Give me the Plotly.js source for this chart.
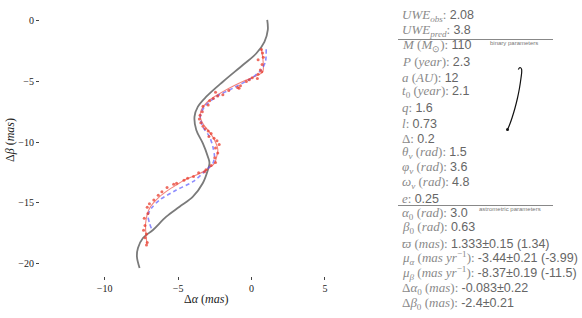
<!DOCTYPE html>
<html>
<head>
<meta charset="utf-8">
<script src="https://cdn.plot.ly/plotly-3.0.1.min.js"></script>
<style>
  body { margin: 0; padding: 0; background: #fff; }
  #plot { width: 582px; height: 318px; }
</style>
</head>
<body>
<div id="plot"></div>
<script>
// page size, used to turn pixel spots into paper fractions
const W = 582, H = 318;

// gray track: single star path (no binary)
const trackX = [1.07, 1.11, 0.88, 0.32, -0.59, -1.95, -3.08, -3.65, -3.88, -3.76, -3.31, -2.97, -2.86, -2.97, -3.31, -3.99, -4.90, -5.80, -6.71, -7.39, -7.73, -7.80, -7.62];
const trackY = [0.08, -0.74, -1.72, -2.69, -3.64, -5.02, -6.26, -7.08, -7.91, -9.01, -10.11, -11.21, -11.74, -12.31, -13.39, -14.52, -15.35, -16.17, -17.27, -17.93, -18.76, -19.48, -20.41];

// blue dashed: model track with the binary
const modelX = [1.0, 0.95, 0.66, -0.02, -1.27, -2.40, -3.20, -3.49, -3.31, -2.86, -2.63, -2.52, -2.63, -3.08, -3.99, -5.12, -6.26, -6.82, -7.05, -6.94, -6.82];
const modelY = [-2.34, -3.36, -4.05, -4.74, -5.56, -6.26, -7.08, -7.91, -8.74, -9.56, -10.39, -11.21, -11.76, -12.31, -13.28, -13.97, -14.79, -15.48, -16.03, -16.72, -17.13];

// red line: fitted track
const fitX = [0.66, 0.78, 0.77, 0.30, -0.36, -1.20, -1.95, -2.86, -3.42, -3.49, -3.30, -2.97, -2.52, -2.29, -2.40, -2.52, -3.08, -3.76, -4.50, -5.12, -5.70, -6.26, -6.94, -7.21, -7.17, -7.12];
const fitY = [-2.26, -3.20, -4.19, -4.55, -4.88, -5.35, -5.84, -6.53, -7.36, -7.91, -8.50, -9.01, -9.83, -10.66, -11.35, -11.76, -12.31, -12.73, -13.10, -13.55, -14.00, -14.52, -15.48, -16.72, -17.83, -18.37];

// red dots: observations
const obsX = [0.68, 0.75, 0.80, 0.45, 0.72, 0.60, 0.70, 0.45, 0.40, 0.05, -0.15, -0.35, -0.75, -0.85, -0.95, -1.55, -2.45, -1.95, -2.30, -2.60, -2.85, -2.95, -3.30, -3.35, -3.50, -3.55, -3.45, -3.30, -3.15, -2.95, -2.75, -2.90, -2.55, -2.35, -2.20, -2.45, -2.30, -2.50, -2.45, -2.75, -3.10, -3.20, -3.60, -3.95, -4.35, -4.60, -5.10, -5.30, -5.75, -6.10, -6.35, -6.65, -6.95, -7.10, -7.05, -7.30, -7.25, -7.35, -7.15, -7.25, -7.10, -7.15];
const obsY = [-2.35, -2.65, -3.00, -3.20, -3.60, -4.05, -4.20, -4.40, -4.75, -4.70, -4.85, -5.00, -5.35, -5.55, -5.50, -5.75, -5.90, -6.10, -6.20, -6.40, -6.60, -6.95, -7.05, -7.50, -7.80, -8.10, -8.40, -8.70, -8.90, -9.10, -9.30, -9.55, -9.70, -9.90, -10.20, -10.50, -10.90, -11.30, -11.70, -11.95, -12.30, -12.45, -12.55, -12.85, -13.00, -13.15, -13.40, -13.50, -13.75, -14.10, -14.40, -14.80, -15.10, -15.40, -15.90, -16.30, -16.90, -17.30, -17.60, -17.90, -18.30, -18.50];

// small orbit sketch in the corner (arbitrary units)
const orbitX = [18.3, 20.0, 21.5, 21.7, 21.0, 19.5, 17.5, 15.0, 12.0, 9.5, 7.5];
const orbitY = [48.5, 50.5, 49.0, 46.0, 40.0, 30.0, 20.0, 10.0, 0.0, -7.0, -11.5];

const xTicks = [-10, -5, 0, 5];
const yTicks = [0, -5, -10, -15, -20];

// text panel: [label, value]
const params = [
  ["<i>UWE</i><sub><i>obs</i></sub>", "2.08"],
  ["<i>UWE</i><sub><i>pred</i></sub>", "3.8"],
  ["<i>M</i> (<i>M</i><sub>⊙</sub>)", "110"],
  ["<i>P</i> (<i>year</i>)", "2.3"],
  ["<i>a</i> (<i>AU</i>)", "12"],
  ["<i>t</i><sub>0</sub> (<i>year</i>)", "2.1"],
  ["<i>q</i>", "1.6"],
  ["<i>l</i>", "0.73"],
  ["Δ", "0.2"],
  ["<i>θ</i><sub><i>v</i></sub> (<i>rad</i>)", "1.5"],
  ["<i>φ</i><sub><i>v</i></sub> (<i>rad</i>)", "3.6"],
  ["<i>ω</i><sub><i>v</i></sub> (<i>rad</i>)", "4.8"],
  ["<i>e</i>", "0.25"],
  ["<i>α</i><sub>0</sub> (<i>rad</i>)", "3.0"],
  ["<i>β</i><sub>0</sub> (<i>rad</i>)", "0.63"],
  ["<i>ϖ</i> (<i>mas</i>)", "1.333±0.15 (1.34)"],
  ["<i>μ</i><sub><i>α</i></sub> (<i>mas yr</i><sup>−1</sup>)", "-3.44±0.21 (-3.99)"],
  ["<i>μ</i><sub><i>β</i></sub> (<i>mas yr</i><sup>−1</sup>)", "-8.37±0.19 (-11.5)"],
  ["Δ<i>α</i><sub>0</sub> (<i>mas</i>)", "-0.083±0.22"],
  ["Δ<i>β</i><sub>0</sub> (<i>mas</i>)", "-2.4±0.21"]
];
const paramRows = [16, 31, 46, 62, 77, 91, 108, 123, 138, 152, 167, 182, 198, 213, 228, 243, 258, 273, 288, 303];

let data = [
  {
    x: trackX, y: trackY, type: "scatter", mode: "lines",
    line: {color: "#7a7a7a", width: 1.8, shape: "spline", smoothing: 1},
    hoverinfo: "skip"
  },
  {
    x: fitX, y: fitY, type: "scatter", mode: "lines",
    line: {color: "rgba(240,80,70,0.7)", width: 1.1, shape: "spline", smoothing: 0.8},
    hoverinfo: "skip"
  },
  {
    x: modelX, y: modelY, type: "scatter", mode: "lines",
    line: {color: "rgba(80,80,255,0.65)", width: 1.6, dash: "4px,3px", shape: "spline", smoothing: 0.8},
    hoverinfo: "skip"
  },
  {
    x: obsX, y: obsY, type: "scatter", mode: "markers",
    marker: {color: "rgba(232,60,45,0.75)", size: 3},
    hoverinfo: "skip"
  },
  {
    x: orbitX, y: orbitY, type: "scatter", mode: "lines",
    xaxis: "x2", yaxis: "y2",
    line: {color: "#111", width: 1.2, shape: "spline"},
    hoverinfo: "skip"
  },
  {
    x: [orbitX[orbitX.length - 1]], y: [orbitY[orbitY.length - 1]], type: "scatter", mode: "markers",
    xaxis: "x2", yaxis: "y2",
    marker: {color: "#111", size: 3},
    hoverinfo: "skip"
  }
];

let annotations = [];
for (let i = 0; i < params.length; i++) {
  annotations.push({
    xref: "paper", yref: "paper",
    x: 400 / W, y: 1 - paramRows[i] / H,
    xanchor: "left", yanchor: "middle",
    showarrow: false,
    font: {family: "Liberation Serif", size: 13, color: "#8a8a8a"},
    text: params[i][0] + ": <span style=\"font-family:'Liberation Sans';font-size:12.5px;color:#666\">" + params[i][1] + "</span>"
  });
}
annotations.push({
  xref: "paper", yref: "paper", x: 488 / W, y: 1 - 43 / H,
  xanchor: "left", yanchor: "middle", showarrow: false,
  font: {family: "Liberation Sans", size: 6, color: "#777"},
  text: "binary parameters"
});
annotations.push({
  xref: "paper", yref: "paper", x: 477 / W, y: 1 - 209 / H,
  xanchor: "left", yanchor: "middle", showarrow: false,
  font: {family: "Liberation Sans", size: 6, color: "#777"},
  text: "astrometric parameters"
});
// axis titles
annotations.push({
  xref: "paper", yref: "paper", x: 206 / W, y: 1 - 299 / H,
  xanchor: "center", yanchor: "middle", showarrow: false,
  font: {family: "Liberation Serif", size: 12, color: "#222"},
  text: "Δ<i>α</i> (<i>mas</i>)"
});
annotations.push({
  xref: "paper", yref: "paper", x: 10 / W, y: 1 - 140 / H,
  xanchor: "center", yanchor: "middle", showarrow: false, textangle: -90,
  font: {family: "Liberation Serif", size: 12, color: "#222"},
  text: "Δ<i>β</i> (<i>mas</i>)"
});

let layout = {
  width: W, height: H,
  margin: {l: 0, r: 0, t: 0, b: 0},
  paper_bgcolor: "#fff",
  plot_bgcolor: "#fff",
  showlegend: false,
  xaxis: {
    domain: [40 / W, 369 / W],
    range: [-14.4, 8.0],
    tickvals: xTicks,
    showgrid: false, zeroline: false, showline: false,
    ticks: "outside", ticklen: 3, tickcolor: "#444", tickwidth: 1,
    tickfont: {family: "Liberation Serif", size: 10, color: "#222"}
  },
  yaxis: {
    domain: [(H - 276) / H, (H - 8) / H],
    range: [-21.07, 1.07],
    tickvals: yTicks,
    showgrid: false, zeroline: false, showline: false,
    ticks: "outside", ticklen: 3, tickcolor: "#444", tickwidth: 1,
    tickfont: {family: "Liberation Serif", size: 10, color: "#222"}
  },
  xaxis2: {
    domain: [500 / W, 530 / W], range: [0, 30], anchor: "y2",
    visible: false
  },
  yaxis2: {
    domain: [(H - 135) / H, (H - 62) / H], range: [-17, 56], anchor: "x2",
    visible: false
  },
  shapes: [
    {type: "line", xref: "paper", yref: "paper", x0: 398 / W, x1: 553 / W, y0: 1 - 39.5 / H, y1: 1 - 39.5 / H, line: {color: "#888", width: 1}},
    {type: "line", xref: "paper", yref: "paper", x0: 398 / W, x1: 553 / W, y0: 1 - 205.5 / H, y1: 1 - 205.5 / H, line: {color: "#888", width: 1}}
  ],
  annotations: annotations
};

Plotly.newPlot("plot", data, layout, {staticPlot: true});
</script>
</body>
</html>
